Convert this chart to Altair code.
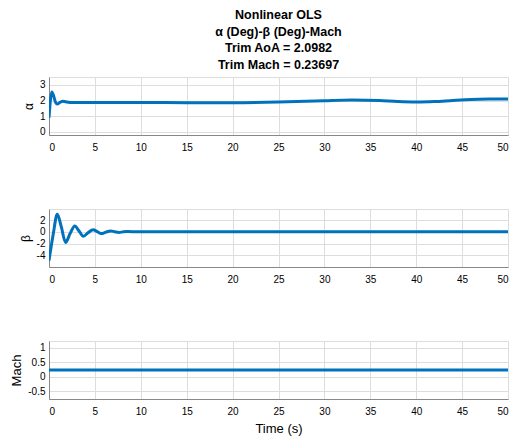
import altair as alt
import pandas as pd

# ---- data ----
t_alpha = [0, 0.15, 0.3, 0.5, 0.7, 0.9, 1.2, 1.5, 2, 2.5, 3, 5, 10, 15, 20, 25, 28, 30, 33, 36, 38, 40, 42, 44, 46, 48, 50]
alpha = [0.9, 2.0, 2.55, 2.3, 1.9, 1.78, 1.88, 1.95, 1.9, 1.87, 1.88, 1.88, 1.88, 1.86, 1.86, 1.9, 1.95, 1.99, 2.04, 2.0, 1.93, 1.9, 1.93, 2.0, 2.06, 2.09, 2.1]

t_beta = [0, 0.45, 0.9, 1.35, 1.8, 2.3, 2.8, 3.25, 3.75, 4.25, 4.8, 5.25, 5.7, 6.2, 6.7, 7.15, 7.6, 8.1, 8.6, 9.5, 10, 20, 30, 40, 50]
beta = [-4.9, -0.5, 3.0, 0.8, -1.8, -0.3, 1.0, 0.2, -0.75, -0.15, 0.35, 0.05, -0.3, -0.05, 0.15, 0.02, -0.1, 0.0, 0.05, 0.0, 0.0, 0.02, 0.0, 0.0, 0.0]

t_mach = [0, 10, 20, 30, 40, 50]
mach = [0.24, 0.235, 0.235, 0.24, 0.237, 0.235]

x_ticks = [0, 5, 10, 15, 20, 25, 30, 35, 40, 45, 50]
alpha_ticks = [0, 1, 2, 3]
beta_ticks = [-4, -2, 0, 2]
mach_ticks = [-0.5, 0, 0.5, 1]

title_lines = ["Nonlinear OLS", "\u03b1 (Deg)-\u03b2 (Deg)-Mach", "Trim AoA = 2.0982", "Trim Mach = 0.23697"]

FONT = "Liberation Sans"
TXT = "#262626"
BLUE = "#0072BD"
W, H = 459, 58


def panel(t, v, ticks, domain, ytitle, ytitle_size, show_xtitle=False, title=None):
    df = pd.DataFrame({"t": t, "v": v})
    xaxis = alt.Axis(values=x_ticks, grid=True, ticks=False, labelPadding=7,
                     title="Time (s)" if show_xtitle else None,
                     titleFontWeight="normal", titlePadding=6, titleFontSize=13)
    yaxis = alt.Axis(values=ticks, grid=True, ticks=False, labelPadding=4,
                     labelExpr="'' + datum.value", title=ytitle,
                     titleFontSize=ytitle_size, titleFontWeight="normal")
    ch = alt.Chart(df).mark_line(color=BLUE, strokeWidth=3, interpolate="monotone", clip=True).encode(
        x=alt.X("t:Q", scale=alt.Scale(domain=[0, 50], nice=False, zero=False), axis=xaxis),
        y=alt.Y("v:Q", scale=alt.Scale(domain=domain, nice=False, zero=False), axis=yaxis),
    ).properties(width=W, height=H)
    if title is not None:
        ch = ch.properties(title=title)
    return ch


p1 = panel(t_alpha, alpha, alpha_ticks, [-0.2, 3.5], "\u03b1", 12,
           title=alt.TitleParams(title_lines, anchor="middle", frame="group", fontSize=12.5,
                                 fontWeight="bold", font=FONT, color="#000000",
                                 lineHeight=16.5, offset=6))
p2 = panel(t_beta, beta, beta_ticks, [-6, 3.9], "\u03b2", 12)
p3 = panel(t_mach, mach, mach_ticks, [-0.763, 1.237], "Mach", 13, show_xtitle=True)

chart = alt.vconcat(p1, p2, p3, spacing=55).properties(
    padding={"left": 10, "top": 8, "right": 5, "bottom": 2}
).configure_view(
    stroke=TXT, strokeWidth=1
).configure_axis(
    labelFont=FONT, titleFont=FONT, labelFontSize=12.5, titleFontSize=12,
    labelColor=TXT, titleColor=TXT, gridColor="#dfdfdf", domain=False,
).configure(background="white")

chart.save("out.html", embed_options={"renderer": "svg", "actions": False})
